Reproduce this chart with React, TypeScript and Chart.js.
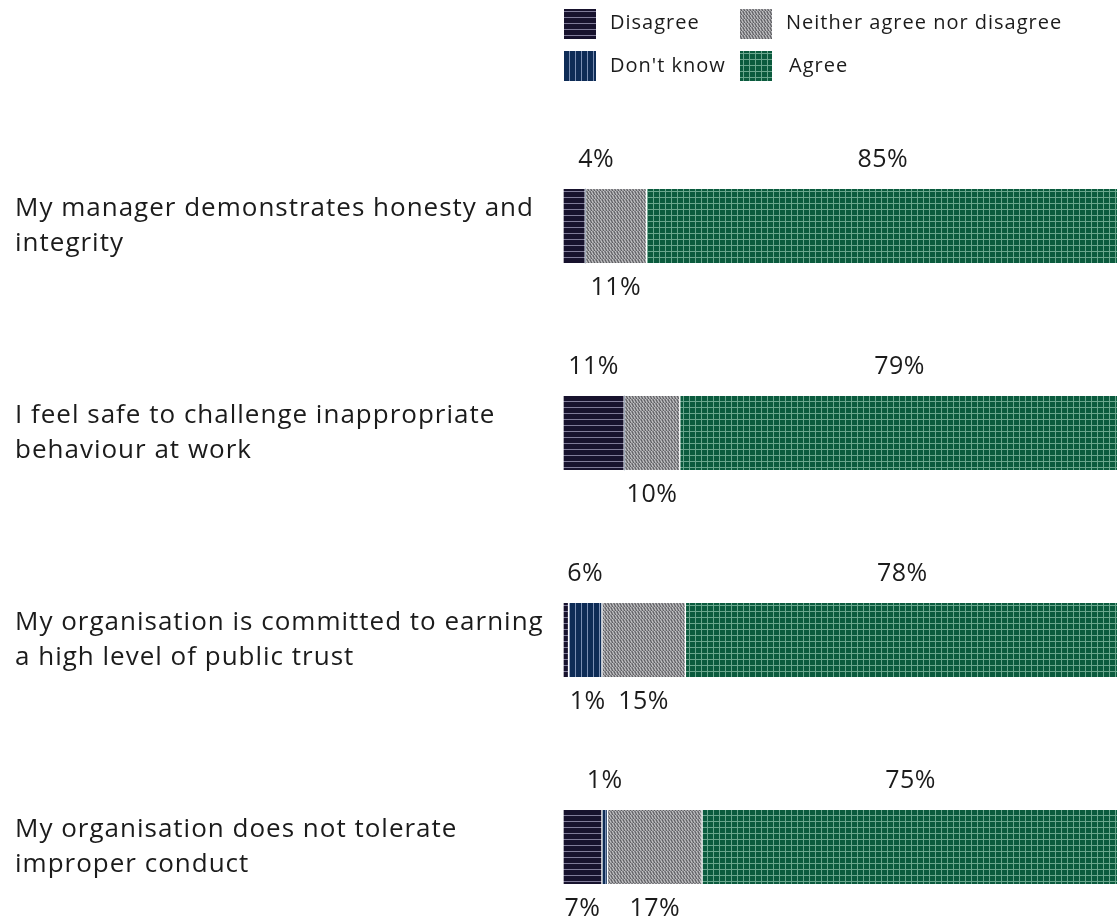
import React, { useEffect, useRef } from 'react';
import { Chart, registerables } from 'chart.js';
Chart.register(...registerables);

const categories: string[][] = [
  ['My manager demonstrates honesty and', 'integrity'],
  ['I feel safe to challenge inappropriate', 'behaviour at work'],
  ['My organisation is committed to earning', 'a high level of public trust'],
  ['My organisation does not tolerate', 'improper conduct'],
];
const seriesNames = ['Disagree', "Don't know", 'Neither agree nor disagree', 'Agree'];
const disagree = [4, 11, 1, 7];
const dontKnow = [0, 0, 6, 1];
const neither = [11, 10, 15, 17];
const agree = [85, 79, 78, 75];

const FONT = '"Open Sans", "Noto Sans", sans-serif';
const TEXT = '#1b1b1b';

function makePattern(kind: string): CanvasPattern | string {
  const c = document.createElement('canvas');
  const s = kind === 'neither' ? 6 : 6;
  c.width = s;
  c.height = kind === 'neither' ? 4 : s;
  const g = c.getContext('2d')!;
  if (kind === 'disagree') {
    g.fillStyle = '#17122d';
    g.fillRect(0, 0, s, s);
    g.fillStyle = '#7f7b98';
    g.fillRect(0, 5, s, 1);
  } else if (kind === 'dontknow') {
    g.fillStyle = '#0e2c56';
    g.fillRect(0, 0, s, s);
    g.fillStyle = '#7b8fb3';
    g.fillRect(5, 0, 1, s);
  } else if (kind === 'neither') {
    const D = '#5e5e62', M = '#7c7c80', L = '#a4a4a7', W = '#c4c4c6';
    const px = [
      [L, L, D, L, L, D],
      [M, W, M, M, W, M],
      [D, L, L, D, L, L],
      [W, M, M, W, M, M],
    ];
    for (let y = 0; y < 4; y++) for (let x = 0; x < 6; x++) {
      g.fillStyle = px[y][x];
      g.fillRect(x, y, 1, 1);
    }
  } else {
    g.fillStyle = '#0b5b3e';
    g.fillRect(0, 0, s, s);
    g.fillStyle = '#6aa68d';
    g.fillRect(0, 5, s, 1);
    g.fillRect(5, 0, 1, s);
  }
  return g.createPattern(c, 'repeat') || '#888';
}

export default function App() {
  const ref = useRef<HTMLCanvasElement>(null);
  useEffect(() => {
    if (!ref.current) return;
    const pats = {
      disagree: makePattern('disagree'),
      dontknow: makePattern('dontknow'),
      neither: makePattern('neither'),
      agree: makePattern('agree'),
    };
    const seriesData = [disagree, dontKnow, neither, agree];
    const seriesPats = [pats.disagree, pats.dontknow, pats.neither, pats.agree];

    const spacingPlugin = {
      id: 'spacing',
      beforeDraw(chart: any) {
        (chart.ctx as any).letterSpacing = '1px';
      },
    };

    const labelPlugin = {
      id: 'valueLabels',
      afterDatasetsDraw(chart: any) {
        const ctx = chart.ctx;
        ctx.save();
        (ctx as any).letterSpacing = '0.5px';
        ctx.font = `25px ${FONT}`;
        ctx.fillStyle = TEXT;
        ctx.textAlign = 'center';
        ctx.textBaseline = 'middle';
        for (let i = 0; i < categories.length; i++) {
          const segs: any[] = [];
          chart.data.datasets.forEach((ds: any, d: number) => {
            const v = ds.data[i];
            if (v > 0) segs.push({ v, el: chart.getDatasetMeta(d).data[i] });
          });
          let top = true;
          for (let k = segs.length - 1; k >= 0; k--) {
            const { v, el } = segs[k];
            let x = (el.base + el.x) / 2;
            if (k === 0 && v < 5) x += 22;
            const y = el.y + (top ? -66 : 62);
            ctx.fillText(`${v}%`, x, y);
            top = !top;
          }
        }
        ctx.restore();
      },
    };

    const legendPlugin = {
      id: 'gridLegend',
      afterDraw(chart: any) {
        const ctx = chart.ctx;
        ctx.save();
        (ctx as any).letterSpacing = '1px';
        ctx.font = `20px ${FONT}`;
        ctx.fillStyle = TEXT;
        ctx.textBaseline = 'middle';
        ctx.textAlign = 'left';
        const items = [
          { i: 0, bx: 564, by: 9, tx: 610, ty: 23 },
          { i: 1, bx: 564, by: 51, tx: 610, ty: 66 },
          { i: 2, bx: 740, by: 9, tx: 786, ty: 23 },
          { i: 3, bx: 740, by: 51, tx: 789, ty: 66 },
        ];
        items.forEach((it) => {
          ctx.fillStyle = seriesPats[it.i] as any;
          ctx.fillRect(it.bx, it.by, 32, 30);
          ctx.fillStyle = TEXT;
          ctx.fillText(seriesNames[it.i], it.tx, it.ty);
        });
        ctx.restore();
      },
    };

    const chart = new Chart(ref.current, {
      type: 'bar',
      data: {
        labels: categories,
        datasets: seriesData.map((d, idx) => ({
          label: seriesNames[idx],
          data: d,
          backgroundColor: seriesPats[idx] as any,
          borderColor: '#ffffff',
          borderWidth: { left: 1, right: 1, top: 0, bottom: 0 },
          borderSkipped: false,
          barThickness: 74,
          clip: false as any,
        })),
      },
      options: {
        indexAxis: 'y',
        animation: false,
        responsive: false,
        maintainAspectRatio: false,
        layout: { padding: { top: 226, bottom: 73, left: 15, right: 0 } },
        plugins: { legend: { display: false }, tooltip: { enabled: false } },
        scales: {
          x: { display: false, stacked: true, min: 0, max: 99.6 },
          y: {
            stacked: true,
            offset: false,
            grid: { display: false },
            border: { display: false },
            afterFit: (scale: any) => {
              scale.width = 548;
            },
            ticks: {
              autoSkip: false,
              crossAlign: 'far',
              color: TEXT,
              padding: 0,
              font: { family: FONT, size: 26, lineHeight: 1.35 },
            },
          },
        },
      },
      plugins: [spacingPlugin, labelPlugin, legendPlugin],
    });
    return () => chart.destroy();
  }, []);

  return (
    <div style={{ position: 'fixed', left: 0, top: 0, width: 1117, height: 920, background: '#fff', overflow: 'hidden' }}>
      <canvas ref={ref} width={1117} height={920} style={{ display: 'block' }} />
    </div>
  );
}
